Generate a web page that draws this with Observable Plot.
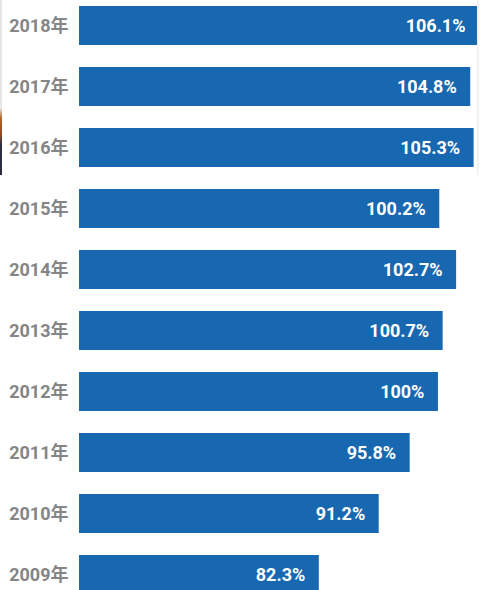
<!DOCTYPE html>
<html>
<head>
<meta charset="utf-8">
<script src="https://cdn.jsdelivr.net/npm/d3@7"></script>
<script src="https://cdn.jsdelivr.net/npm/@observablehq/plot@0.6"></script>
<style>
  html, body { margin: 0; padding: 0; background: #fff; overflow: hidden; width: 480px; height: 590px; }
  #chart { position: relative; width: 480px; height: 590px; }
  #chart svg { display: block; }
  .edge { position: absolute; left: 0; top: 0; width: 2px; height: 175px;
    background: linear-gradient(to bottom, #e6e6e6 0px, #e6e6e6 108px, #b5652a 118px, #8a4a26 135px, #2c2f45 145px, #2a2d40 175px); }
  .edge-r { position: absolute; right: 1px; top: 0; width: 2px; height: 175px; background: #f2f2f2; }
</style>
</head>
<body>
<div id="chart"><div class="edge"></div><div class="edge-r"></div></div>
<script>
const years = ["2018", "2017", "2016", "2015", "2014", "2013", "2012", "2011", "2010", "2009"];
const values = [106.1, 104.8, 105.3, 100.2, 102.7, 100.7, 100, 95.8, 91.2, 82.3];
const labels = ["106.1%", "104.8%", "105.3%", "100.2%", "102.7%", "100.7%", "100%", "95.8%", "91.2%", "82.3%"];

const data = years.map((y, i) => ({year: y, value: values[i], label: labels[i]}));

const font = "Roboto, 'Noto Sans CJK SC', sans-serif";

const chart = Plot.plot({
  width: 480,
  height: 595,
  marginLeft: 79,
  marginRight: 0,
  marginTop: 5,
  marginBottom: 0,
  style: {fontFamily: font, background: "transparent", overflow: "visible"},
  x: {domain: [46.67, 106.25], clamp: true, axis: null},
  y: {domain: years, paddingInner: 0.368, paddingOuter: 0, label: null},
  marks: [
    Plot.barX(data, {x: "value", y: "year", fill: "#1767b1"}),
    Plot.text(data, {
      x: "value", y: "year", text: "label",
      textAnchor: "end", dx: -14,
      fill: "#ffffff", fontSize: 18, fontWeight: "bold"
    }),
    Plot.axisY({
      tickSize: 0, tickPadding: 11,
      tickFormat: d => d + "年",
      fontSize: 18, fontWeight: "bold", fill: "#858585",
      label: null
    })
  ]
});
document.getElementById("chart").prepend(chart);
</script>
</body>
</html>
